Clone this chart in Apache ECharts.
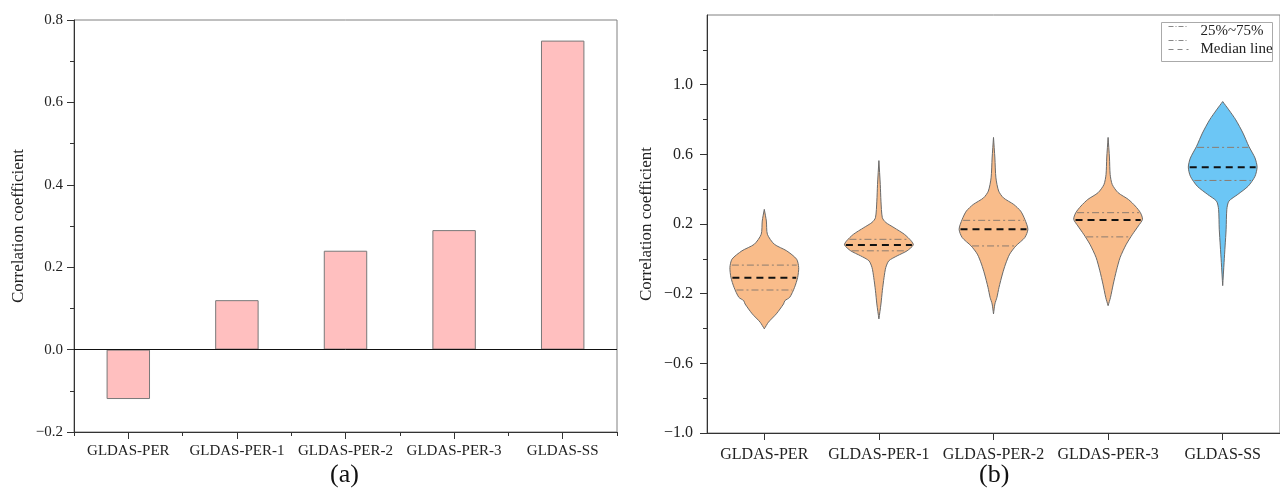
<!DOCTYPE html>
<html>
<head>
<meta charset="utf-8">
<title>Correlation coefficient</title>
<script src="https://cdn.jsdelivr.net/npm/echarts@6/dist/echarts.min.js"></script>
<style>
  html, body { margin: 0; padding: 0; background: #fff; }
  #main { width: 1280px; height: 495px; }
</style>
</head>
<body>
<div id="main"></div>
<script>
// 类别
var categories = ['GLDAS-PER', 'GLDAS-PER-1', 'GLDAS-PER-2', 'GLDAS-PER-3', 'GLDAS-SS'];
// (a) 相关系数柱状
var barValues = [-0.12, 0.12, 0.24, 0.29, 0.75];

// (b) 小提琴密度轮廓 [值, 相对宽度]
var violinPER = [[0.284, 0], [0.217, 0.06], [0.141, 0.09], [0.084, 0.29], [0.046, 0.65], [-0.002, 0.94], [-0.05, 1.0], [-0.107, 0.97], [-0.164, 0.88], [-0.221, 0.74], [-0.24, 0.6], [-0.259, 0.56], [-0.316, 0.35], [-0.364, 0.12], [-0.402, 0]];
var violinPER1 = [[0.564, 0], [0.427, 0.04], [0.331, 0.06], [0.236, 0.1], [0.209, 0.2], [0.179, 0.44], [0.141, 0.74], [0.103, 0.94], [0.08, 1.0], [0.046, 0.82], [0.017, 0.53], [-0.011, 0.29], [-0.05, 0.2], [-0.107, 0.15], [-0.183, 0.1], [-0.259, 0.06], [-0.345, 0]];
var violinPER2 = [[0.697, 0], [0.579, 0.04], [0.465, 0.07], [0.389, 0.15], [0.35, 0.29], [0.312, 0.59], [0.274, 0.79], [0.227, 0.91], [0.17, 1.0], [0.122, 0.91], [0.074, 0.65], [0.027, 0.47], [-0.03, 0.35], [-0.087, 0.26], [-0.164, 0.16], [-0.221, 0.1], [-0.259, 0.04], [-0.316, 0]];
var violinPER3 = [[0.697, 0], [0.579, 0.04], [0.484, 0.06], [0.427, 0.12], [0.38, 0.29], [0.341, 0.59], [0.303, 0.79], [0.265, 0.94], [0.227, 1.0], [0.189, 0.88], [0.141, 0.71], [0.084, 0.53], [0.008, 0.35], [-0.069, 0.24], [-0.145, 0.15], [-0.221, 0.07], [-0.269, 0]];
var violinSS = [[0.903, 0], [0.855, 0.18], [0.798, 0.38], [0.722, 0.59], [0.646, 0.76], [0.579, 0.94], [0.527, 1.0], [0.474, 0.94], [0.417, 0.74], [0.37, 0.44], [0.331, 0.18], [0.284, 0.12], [0.17, 0.1], [0.074, 0.07], [-0.021, 0.04], [-0.154, 0]];
var violins = [violinPER, violinPER1, violinPER2, violinPER3, violinSS];

// 四分位线和中位线
var q75 = [-0.036, 0.112, 0.221, 0.265, 0.64];
var medians = [-0.109, 0.080, 0.170, 0.223, 0.526];
var q25 = [-0.179, 0.046, 0.074, 0.126, 0.450];

// (b) 刻度
var rightLabelTicks = [-1.0, -0.6, -0.2, 0.2, 0.6, 1.0];
var rightMinorTicks = [-0.8, -0.4, 0, 0.4, 0.8, 1.2];

var FONT = '"Liberation Serif", "Times New Roman", serif';
var violinColors = ['#F9BC8A', '#F9BC8A', '#F9BC8A', '#F9BC8A', '#6CC6F5'];

function fmt(v) {
  var s = Math.abs(v).toFixed(1);
  return (v < -1e-9 ? '\u2212' : '') + s;
}

// 在轮廓上插值宽度
function widthAt(profile, v) {
  for (var i = 0; i < profile.length - 1; i++) {
    var a = profile[i], b = profile[i + 1];
    if (v <= a[0] && v >= b[0]) {
      var t = (a[0] - v) / (a[0] - b[0]);
      return a[1] + (b[1] - a[1]) * t;
    }
  }
  return 0;
}

function renderViolin(params, api) {
  var idx = params.dataIndex;
  var profile = violins[idx];
  var cx = api.coord([idx, 0])[0];
  var half = api.size([1, 0])[0] * 0.3;
  var pts = [];
  profile.forEach(function (p) {
    pts.push([cx + p[1] * half, api.coord([idx, p[0]])[1]]);
  });
  for (var i = profile.length - 1; i >= 0; i--) {
    pts.push([cx - profile[i][1] * half, api.coord([idx, profile[i][0]])[1]]);
  }
  function hline(v, style) {
    var w = widthAt(profile, v) * half * 0.96;
    var y = api.coord([idx, v])[1];
    return {
      type: 'line',
      shape: { x1: cx - w, y1: y, x2: cx + w, y2: y },
      style: style
    };
  }
  return {
    type: 'group',
    children: [
      {
        type: 'polygon',
        shape: { points: pts, smooth: 0.25 },
        style: { fill: violinColors[idx], stroke: '#6a6a6a', lineWidth: 1 }
      },
      hline(q75[idx], { stroke: '#8c7c70', lineWidth: 1, lineDash: [7, 3, 2, 3] }),
      hline(q25[idx], { stroke: '#8c7c70', lineWidth: 1, lineDash: [7, 3, 2, 3] }),
      hline(medians[idx], { stroke: '#111', lineWidth: 2, lineDash: [7, 5] })
    ]
  };
}

var chart = echarts.init(document.getElementById('main'));

var labelStyle = { fontFamily: FONT, color: '#222' };
var tickLine = { color: '#333', width: 1 };

var option = {
  backgroundColor: '#fff',
  animation: false,
  textStyle: { fontFamily: FONT },
  grid: [
    { left: 74, top: 20, width: 543, height: 412, show: true, borderColor: '#808080', borderWidth: 1 },
    { left: 707, top: 15, width: 575, height: 418, show: true, borderColor: '#808080', borderWidth: 1 }
  ],
  xAxis: [
    {
      gridIndex: 0,
      type: 'category',
      data: categories,
      position: 'bottom',
      axisLine: { onZero: false, lineStyle: { color: '#333', width: 1 } },
      axisTick: { show: true, alignWithLabel: true, interval: 0, length: 7, lineStyle: tickLine },
      axisLabel: Object.assign({ fontSize: 15, margin: 12, interval: 0 }, labelStyle)
    },
    {
      // 类别之间的短刻度
      gridIndex: 0,
      type: 'category',
      data: categories,
      position: 'bottom',
      axisLine: { show: false, onZero: false },
      axisTick: { show: true, alignWithLabel: false, interval: 0, length: 4, lineStyle: tickLine },
      axisLabel: { show: false }
    },
    {
      gridIndex: 1,
      type: 'category',
      data: categories,
      position: 'bottom',
      axisLine: { onZero: false, lineStyle: { color: '#333', width: 1 } },
      axisTick: { show: true, alignWithLabel: true, interval: 0, length: 7, lineStyle: tickLine },
      axisLabel: Object.assign({ fontSize: 16, margin: 14, interval: 0 }, labelStyle)
    }
  ],
  yAxis: [
    {
      gridIndex: 0,
      type: 'value',
      min: -0.2,
      max: 0.8,
      interval: 0.2,
      name: 'Correlation coefficient',
      nameLocation: 'middle',
      nameGap: 47,
      nameTextStyle: { fontFamily: FONT, fontSize: 17, color: '#222' },
      splitLine: { show: false },
      axisLine: { show: true, lineStyle: { color: '#333' } },
      axisTick: { show: true, length: 7, lineStyle: tickLine },
      minorTick: { show: true, splitNumber: 2, length: 4, lineStyle: tickLine },
      axisLabel: Object.assign({ fontSize: 15, margin: 11, formatter: fmt }, labelStyle)
    },
    {
      gridIndex: 1,
      type: 'value',
      min: -1.0,
      max: 1.4,
      interval: 0.2,
      position: 'left',
      name: 'Correlation coefficient',
      nameLocation: 'middle',
      nameGap: 52,
      nameTextStyle: { fontFamily: FONT, fontSize: 17, color: '#222' },
      splitLine: { show: false },
      axisLine: { show: true, lineStyle: { color: '#333' } },
      axisTick: { show: true, length: 7, customValues: rightLabelTicks, lineStyle: tickLine },
      axisLabel: Object.assign({ fontSize: 16, margin: 14, customValues: rightLabelTicks, formatter: fmt }, labelStyle)
    },
    {
      // 次刻度
      gridIndex: 1,
      type: 'value',
      min: -1.0,
      max: 1.4,
      interval: 0.2,
      position: 'left',
      splitLine: { show: false },
      axisLine: { show: false },
      axisTick: { show: true, length: 4, customValues: rightMinorTicks, lineStyle: tickLine },
      axisLabel: { show: false }
    }
  ],
  series: [
    {
      type: 'bar',
      xAxisIndex: 0,
      yAxisIndex: 0,
      data: barValues,
      barWidth: '40%',
      itemStyle: { color: '#FFBFBF', borderColor: '#787878', borderWidth: 1 },
      markLine: {
        silent: true,
        symbol: 'none',
        label: { show: false },
        lineStyle: { color: '#111', type: 'solid', width: 1 },
        data: [{ yAxis: 0 }]
      }
    },
    {
      type: 'custom',
      xAxisIndex: 2,
      yAxisIndex: 1,
      renderItem: renderViolin,
      data: categories.map(function (c, i) { return [i, medians[i]]; })
    }
  ],
  graphic: [
    { type: 'text', left: 330, top: 462, style: { text: '(a)', font: '26px ' + FONT, fill: '#111' } },
    { type: 'text', left: 979, top: 462, style: { text: '(b)', font: '26px ' + FONT, fill: '#111' } },
    // 图例
    {
      type: 'group',
      left: 1161,
      top: 22,
      children: [
        { type: 'rect', shape: { x: 0, y: 0, width: 111, height: 39 }, style: { fill: '#fff', stroke: '#aaa', lineWidth: 1 } },
        { type: 'line', shape: { x1: 7, y1: 4, x2: 27, y2: 4 }, style: { stroke: '#888', lineWidth: 1, lineDash: [5, 2, 1, 2] } },
        { type: 'line', shape: { x1: 7, y1: 18, x2: 27, y2: 18 }, style: { stroke: '#888', lineWidth: 1, lineDash: [5, 2, 1, 2] } },
        { type: 'line', shape: { x1: 7, y1: 27, x2: 27, y2: 27 }, style: { stroke: '#888', lineWidth: 1, lineDash: [5, 4] } },
        { type: 'text', x: 39, y: 9, style: { text: '25%~75%', font: '15px ' + FONT, fill: '#222', verticalAlign: 'middle' } },
        { type: 'text', x: 39, y: 27, style: { text: 'Median line', font: '15px ' + FONT, fill: '#222', verticalAlign: 'middle' } }
      ]
    }
  ]
};

chart.setOption(option);
</script>
</body>
</html>
